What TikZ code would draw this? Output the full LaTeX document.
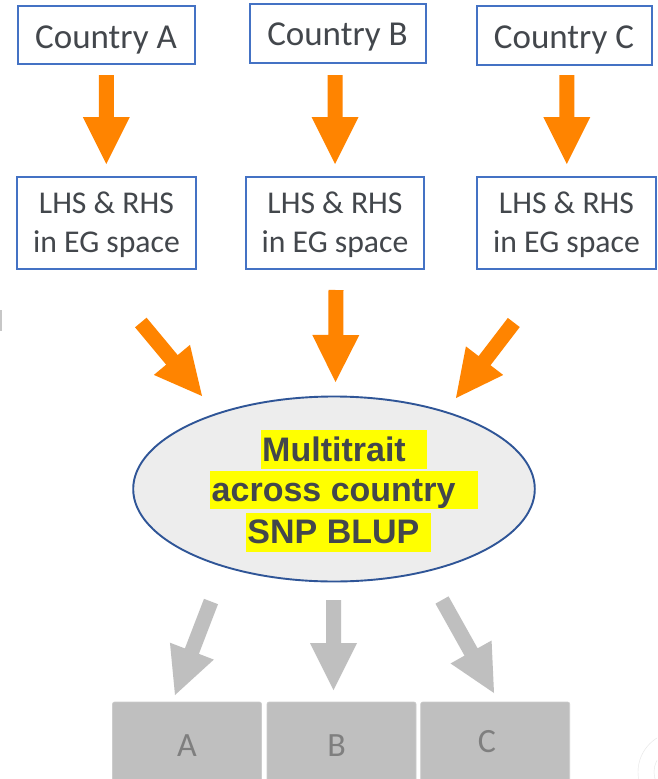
\documentclass[tikz,border=0pt]{standalone}
\usepackage{fontspec}
\setmainfont{Carlito}
\newfontfamily\headfont{Liberation Sans}
\usetikzlibrary{calc,shapes.geometric}

\definecolor{boxblue}{HTML}{4472C4}
\definecolor{inkgray}{HTML}{43474C}
\definecolor{flowora}{HTML}{FF8400}
\definecolor{flowgray}{HTML}{BFBFBF}
\definecolor{ellfill}{HTML}{EDEDED}
\definecolor{ellline}{HTML}{2F5597}
\definecolor{markyel}{HTML}{FFFF00}
\definecolor{lettergray}{HTML}{7F7F7F}

% block arrow: style, tail coordinate, tip coordinate
\newcommand\blockarrow[3]{%
  \path ($(#3)!47pt!(#2)$) coordinate (hb);
  \fill[#1] ($(#2)!7.5pt!90:(#3)$) -- ($(hb)!7.5pt!90:(#3)$)
    -- ($(hb)!23.5pt!90:(#3)$) -- (#3) -- ($(hb)!23.5pt!-90:(#3)$)
    -- ($(hb)!7.5pt!-90:(#3)$) -- ($(#2)!7.5pt!-90:(#3)$) -- cycle;
}

\tikzset{
  cbox/.style={draw=boxblue, line width=1.6pt, fill=white, inner sep=0pt},
  ctext/.style={anchor=base, inner sep=0pt, text=inkgray,
    font=\fontsize{35}{42}\selectfont},
  ltext/.style={anchor=base, inner sep=0pt, text=inkgray,
    font=\fontsize{31.7}{39}\selectfont},
  etext/.style={anchor=base, inner sep=0pt, text=inkgray,
    font=\headfont\bfseries\fontsize{34}{41}\selectfont},
  rbox/.style={draw=flowgray!80!white, line width=0.6pt, fill=flowgray,
    rounded corners=2pt, inner sep=0pt, minimum width=149pt, minimum height=88pt},
  rtext/.style={anchor=base, inner sep=0pt, text=lettergray,
    font=\fontsize{34}{40}\selectfont},
}

\begin{document}
\begin{tikzpicture}[x=1pt,y=-1pt]
\clip (0,0) rectangle (657,779);
\fill[white] (0,0) rectangle (657,779);

% country boxes
\node[cbox, minimum width=177pt, minimum height=58pt] (ca) at (106.5,35) {};
\node[cbox, minimum width=176pt, minimum height=59pt] (cb) at (338,33.5) {};
\node[cbox, minimum width=175pt, minimum height=59pt] (cc) at (564.5,35.5) {};
\node[ctext] (cat) at (106,48) {Country A};
\node[ctext] (cbt) at (337.5,45) {Country B};
\node[ctext] (cct) at (564,48) {Country C};

% equation boxes
\node[cbox, minimum width=179pt, minimum height=92pt] (la) at (106.5,223) {};
\node[cbox, minimum width=178.5pt, minimum height=92pt] (lb) at (335,223) {};
\node[cbox, minimum width=179pt, minimum height=92pt] (lc) at (566.5,223) {};
\node[ltext] (la1) at (106.5,213) {LHS \& RHS};
\node[ltext] (la2) at (106.5,252) {in EG space};
\node[ltext] (lb1) at (335,213) {LHS \& RHS};
\node[ltext] (lb2) at (335,252) {in EG space};
\node[ltext] (lc1) at (566.5,213) {LHS \& RHS};
\node[ltext] (lc2) at (566.5,252) {in EG space};

% joint evaluation
\node[ellipse, draw=ellline, line width=1.9pt, fill=ellfill, inner sep=0pt,
  minimum width=401.6pt, minimum height=185pt] (ev) at (334,489) {};
\fill[markyel] (261,430) rectangle (427,469);
\fill[markyel] (209.5,471) rectangle (478,509);
\fill[markyel] (246,513) rectangle (430.7,552);
\node[etext] (ev1) at (334,461) {Multitrait};
\node[etext] (ev2) at (333.6,501) {across country};
\node[etext] (ev3) at (333.4,543) {SNP BLUP};

% result boxes
\node[rbox] (ra) at (187,746) {};
\node[rbox] (rb) at (341.5,746) {};
\node[rbox] (rc) at (495.2,746) {};
\node[rtext] (rat) at (187,756) {A};
\node[rtext] (rbt) at (336.7,756) {B};
\node[rtext] (rct) at (487,752) {C};

% arrow ends
\coordinate (oa0) at (106.3,75);   \coordinate (oa1) at (106.3,164);
\coordinate (ob0) at (335,75);     \coordinate (ob1) at (335,164);
\coordinate (oc0) at (566.8,75);   \coordinate (oc1) at (566.8,164);
\coordinate (ma0) at (140.8,322.5); \coordinate (ma1) at (202,396);
\coordinate (mb0) at (336,290);     \coordinate (mb1) at (335.5,382);
\coordinate (mc0) at (513.8,322.5); \coordinate (mc1) at (456,398);
\coordinate (ga0) at (211,601.5);  \coordinate (ga1) at (175,695);
\coordinate (gb0) at (333.5,600);  \coordinate (gb1) at (333.5,690);
\coordinate (gc0) at (442,600);    \coordinate (gc1) at (494,693);

\blockarrow{flowora}{oa0}{oa1}
\blockarrow{flowora}{ob0}{ob1}
\blockarrow{flowora}{oc0}{oc1}
\blockarrow{flowora}{ma0}{ma1}
\blockarrow{flowora}{mb0}{mb1}
\blockarrow{flowora}{mc0}{mc1}
\blockarrow{flowgray}{ga0}{ga1}
\blockarrow{flowgray}{gb0}{gb1}
\blockarrow{flowgray}{gc0}{gc1}

% edge marks
\fill[black!22] (0,310) rectangle (2.3,331);
\draw[black!10, line width=0.4pt] (678,772) circle[radius=40pt];
\draw[black!10, line width=0.4pt] (678,772) circle[radius=24pt];
\end{tikzpicture}
\end{document}
